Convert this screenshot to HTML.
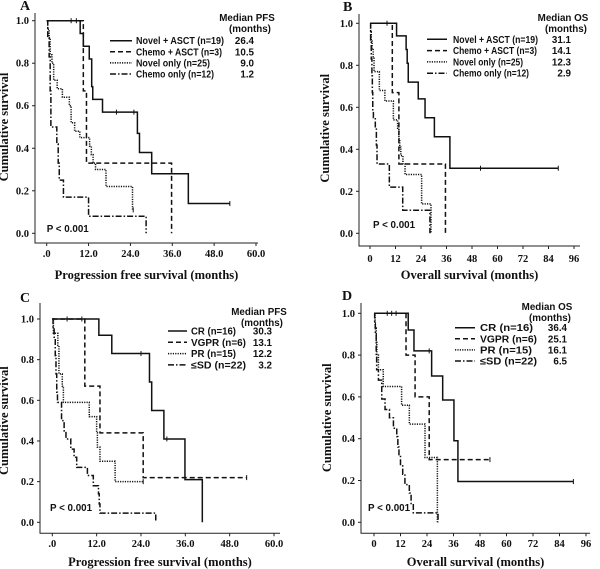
<!DOCTYPE html>
<html><head><meta charset="utf-8"><style>
html,body{margin:0;padding:0;background:#fff;}
svg{display:block;}
.tk{font-family:"Liberation Serif",serif;font-weight:bold;font-size:10.5px;fill:#111;}
.ttl{font-family:"Liberation Serif",serif;font-weight:bold;font-size:12.5px;fill:#111;}
.lg{font-family:"Liberation Sans",sans-serif;font-weight:bold;font-size:9.8px;fill:#111;}
.pl{font-family:"Liberation Serif",serif;font-weight:bold;font-size:14px;fill:#111;}
</style></head><body>
<svg id="fig" width="600" height="569" viewBox="0 0 600 569" xmlns="http://www.w3.org/2000/svg"></svg>
<script>
// ---- Panel A (PFS by treatment) ----
const A_nasct_t=[9.6,10.5,12.2,12.9,13.2,16,26,26.6,30.1,40.6];
const A_nasct_s=[0.94,0.88,0.82,0.69,0.63,0.57,0.47,0.38,0.28,0.14];
const A_nasct_c=[7,8.5,20,25,52.5];
const A_casct_t=[10.5,11.4,35.8];
const A_casct_s=[0.67,0.33,0];
const A_novel_t=[0.3,0.7,1,1.5,2,3,4.5,6.5,7,8,9.5,12.3,12.8,13.3,14,17,24.6];
const A_novel_s=[0.96,0.92,0.84,0.80,0.72,0.68,0.64,0.60,0.52,0.48,0.45,0.41,0.37,0.33,0.30,0.22,0.11];
const A_chemo_t=[0.3,0.7,1,1.2,2.9,3.3,3.6,4.8,12,28.5];
const A_chemo_s=[0.92,0.83,0.67,0.5,0.42,0.33,0.25,0.17,0.08,0];
// ---- Panel B (OS by treatment) ----
const B_nasct_t=[12.5,17,17.5,18,22.7,25.9,30.3,37.6];
const B_nasct_s=[0.94,0.875,0.81,0.72,0.64,0.55,0.46,0.31];
const B_nasct_c=[8,52,88.6];
const B_casct_t=[10.5,13.6,35.5];
const B_casct_s=[0.67,0.33,0];
const B_novel_t=[0.3,0.6,1,1.5,1.9,4.4,7,11,13,13.6,14,14.5,15.5,16.5,24.3,28.7];
const B_novel_s=[0.96,0.92,0.88,0.84,0.77,0.68,0.63,0.54,0.50,0.45,0.41,0.37,0.33,0.28,0.14,0];
const B_chemo_t=[0.3,0.6,0.9,1.1,1.3,1.6,2.5,3,3.3,9.1,15.4,28.2];
const B_chemo_s=[0.92,0.83,0.75,0.67,0.58,0.55,0.5,0.42,0.33,0.22,0.11,0];
// ---- Panel C (PFS by response) ----
const C_cr_t=[12.6,16.1,26.3,26.9,30.2,35.9,40.6];
const C_cr_s=[0.92,0.83,0.69,0.55,0.41,0.21,0];
const C_cr_c=[4,8,24,31];
const C_vgpr_t=[8.8,12.9,24.6];
const C_vgpr_s=[0.67,0.44,0.22];
const C_vgpr_c=[52.6];
const C_pr_t=[0.3,1.5,1.8,2.7,3,10,12,12.2,12.9,17];
const C_pr_s=[0.93,0.87,0.73,0.67,0.59,0.52,0.44,0.37,0.30,0.2];
const C_pr_c=[24.6];
const C_sd_t=[0.2,0.5,0.8,1,1.2,1.4,2.5,3.2,3.7,5,5.9,6.6,9.5,11.1,12.5,12.7,12.9,28];
const C_sd_s=[0.95,0.91,0.82,0.73,0.64,0.59,0.5,0.45,0.41,0.36,0.32,0.27,0.23,0.18,0.14,0.09,0.045,0];
// ---- Panel D (OS by response) ----
const D_cr_t=[15.5,18.1,26.1,31.1,36.2,38];
const D_cr_s=[0.92,0.82,0.70,0.585,0.39,0.195];
const D_cr_c=[6,8,10,25,90.3];
const D_vgpr_t=[14.5,18.6,25];
const D_vgpr_s=[0.8,0.6,0.3];
const D_vgpr_c=[52.5];
const D_pr_t=[0.5,1,1.3,2,4.2,12.5,16,23.1,28.7];
const D_pr_s=[0.93,0.87,0.80,0.73,0.65,0.56,0.47,0.31,0];
const D_sd_t=[0.3,0.6,1,1.2,2,3.5,5,7,8.8,10.3,10.8,11.3,12,13,14,16,16.8,17.8,29];
const D_sd_s=[0.95,0.9,0.8,0.73,0.68,0.59,0.54,0.5,0.45,0.41,0.36,0.32,0.27,0.23,0.18,0.14,0.09,0.045,0];
// ---- ticks / labels ----
const pfsTicks=[0,12,24,36,48,60];
const pfsTickLabels=[".0","12.0","24.0","36.0","48.0","60.0"];
const osTicks=[0,12,24,36,48,60,72,84,96];
const osTickLabels=["0","12","24","36","48","60","72","84","96"];
const yTicks=[0,0.2,0.4,0.6,0.8,1.0];
const yTickLabels=["0.0","0.2","0.4","0.6","0.8","1.0"];
const trtNames=["Novel + ASCT  (n=19)","Chemo + ASCT (n=3)","Novel only (n=25)","Chemo only (n=12)"];
const respNames=["CR (n=16)","VGPR (n=6)","PR (n=15)","\u2264SD (n=22)"];
const A_medians=["26.4","10.5","9.0","1.2"];
const B_medians=["31.1","14.1","12.3","2.9"];
const C_medians=["30.3","13.1","12.2","3.2"];
const D_medians=["36.4","25.1","16.1","6.5"];

const NS="http://www.w3.org/2000/svg";
const fig=document.getElementById('fig');
const dashes=[null,"5,3","1.2,1.2","6,2,1.5,2"];
function mk(tag,attrs,parent){const e=document.createElementNS(NS,tag);for(const k in attrs)e.setAttribute(k,attrs[k]);parent.appendChild(e);return e;}

function panel(cfg){
  const g=mk('g',{},fig);
  
  
  const xs=t=>cfg.x0+t*(cfg.x1-cfg.x0)/cfg.xmax;
  const ys=s=>cfg.y0-s*(cfg.y0-cfg.y1);
  const lab=mk('text',{x:cfg.lx,y:cfg.ly,class:'pl'},g);lab.textContent=cfg.id;
  
  
  const ax=mk('path',{d:`M${cfg.ax} ${cfg.ytop} V${cfg.ab} H${cfg.xend}`,stroke:'#222','stroke-width':1,fill:'none'},g);
  
  
  yTicks.forEach((v,i)=>{
    mk('line',{x1:cfg.ax-3,x2:cfg.ax,y1:ys(v),y2:ys(v),stroke:'#222'},g);
    const t=mk('text',{x:cfg.ax-6,y:ys(v)+3.5,class:'tk','text-anchor':'end'},g);t.textContent=yTickLabels[i];
    
    
  });
  cfg.xt.forEach((v,i)=>{
    mk('line',{x1:xs(v),x2:xs(v),y1:cfg.ab,y2:cfg.ab+3,stroke:'#222'},g);
    const t=mk('text',{x:xs(v),y:cfg.xly,class:'tk','text-anchor':'middle'},g);t.textContent=cfg.xtl[i];
    
    
  });
  const xt=mk('text',{x:(cfg.ax+cfg.xend)/2,y:cfg.xty,class:'ttl','text-anchor':'middle'},g);xt.textContent=cfg.xtitle;
  
  
  const yc=(cfg.y0+cfg.y1)/2;
  const yt=mk('text',{x:cfg.ytx,y:yc,class:'ttl','text-anchor':'middle',transform:`rotate(-90 ${cfg.ytx} ${yc})`},g);yt.textContent='Cumulative survival';
  
  
  cfg.series.forEach((sr,k)=>{
    let d=`M${xs(0)} ${ys(1)}`;
    sr.t.forEach((t,i)=>{d+=` H${xs(t)} V${ys(sr.s[i])}`;});
    const end=sr.end!=null?sr.end:sr.t[sr.t.length-1];
    d+=` H${xs(end)}`;
    const p=mk('path',{d:d,fill:'none',stroke:'#111','stroke-width':1.5},g);
    if(dashes[k])p.setAttribute('stroke-dasharray',dashes[k]);
    
    
    (sr.c||[]).forEach(c=>{
      let v=1;sr.t.forEach((t,i)=>{if(t<=c)v=sr.s[i];});
      const m=mk('line',{x1:xs(c),x2:xs(c),y1:ys(v)-2.5,y2:ys(v)+2.5,stroke:'#111','stroke-width':1},g);
      
      
    });
    const ly=cfg.legY+k*cfg.legDy;
    const ll=mk('line',{x1:cfg.legX1,x2:cfg.legX2,y1:ly,y2:ly,stroke:'#111','stroke-width':1.5},g);
    if(dashes[k])ll.setAttribute('stroke-dasharray',dashes[k]);
    
    
    const lt=mk('text',{x:cfg.legTx,y:ly+3.5,class:'lg',textLength:cfg.legW[k],lengthAdjust:'spacingAndGlyphs'},g);lt.textContent=cfg.names[k];
    
    
    const mv=mk('text',{x:cfg.medX,y:ly+3.5,class:'lg','text-anchor':'end'},g);mv.textContent=cfg.med[k];
    
    
  });
  const mh=mk('text',{x:cfg.mhx,y:cfg.mhy,class:'lg','text-anchor':'middle'},g);mh.textContent=cfg.mtitle;
  
  
  const mh2=mk('text',{x:cfg.mhx+3,y:cfg.mhy+11,class:'lg','text-anchor':'middle'},g);mh2.textContent='(months)';
  
  
  const pv=mk('text',{x:cfg.px,y:cfg.py,class:'lg'},g);pv.textContent='P < 0.001';
  
  
}

panel({id:'A',lx:20,ly:10,x0:46.7,x1:256,xmax:60,y0:233.3,y1:20.7,ax:35,ab:243,ytop:13,xend:258,
  xt:pfsTicks,xtl:pfsTickLabels,xly:257,xty:279,xtitle:'Progression free survival (months)',ytx:8,
  series:[{key:'novel-asct',t:A_nasct_t,s:A_nasct_s,c:A_nasct_c,end:52.5},{key:'chemo-asct',t:A_casct_t,s:A_casct_s},
          {key:'novel-only',t:A_novel_t,s:A_novel_s,c:[24.8],end:24.8},{key:'chemo-only',t:A_chemo_t,s:A_chemo_s}],
  names:trtNames,legW:[88,86,74,78],med:A_medians,legY:40.7,legDy:11.1,legX1:110,legX2:132,legTx:136,medX:254,mhx:247,mhy:21,mtitle:'Median  PFS',px:46.7,py:232});
panel({id:'B',lx:343,ly:11,x0:370,x1:574,xmax:96,y0:233.3,y1:23.3,ax:359,ab:246,ytop:14,xend:580,
  xt:osTicks,xtl:osTickLabels,xly:262,xty:279,xtitle:'Overall survival (months)',ytx:329,
  series:[{key:'novel-asct',t:B_nasct_t,s:B_nasct_s,c:B_nasct_c,end:88.6},{key:'chemo-asct',t:B_casct_t,s:B_casct_s},
          {key:'novel-only',t:B_novel_t,s:B_novel_s},{key:'chemo-only',t:B_chemo_t,s:B_chemo_s}],
  names:trtNames,legW:[85,84,70,76],med:B_medians,legY:39.3,legDy:11.3,legX1:427,legX2:447,legTx:453,medX:571,mhx:563,mhy:21,mtitle:'Median  OS',px:373,py:228});
panel({id:'C',lx:20,ly:302,x0:52.3,x1:274,xmax:60,y0:522.3,y1:319,ax:40,ab:533.3,ytop:303,xend:280,
  xt:pfsTicks,xtl:pfsTickLabels,xly:547,xty:566,xtitle:'Progression free survival (months)',ytx:8,
  series:[{key:'cr',t:C_cr_t,s:C_cr_s,c:C_cr_c},{key:'vgpr',t:C_vgpr_t,s:C_vgpr_s,c:C_vgpr_c,end:52.6},
          {key:'pr',t:C_pr_t,s:C_pr_s,c:C_pr_c,end:24.6},{key:'sd',t:C_sd_t,s:C_sd_s}],
  names:respNames,legW:[45,55,45,55],med:C_medians,legY:331,legDy:11.3,legX1:168,legX2:187,legTx:191,medX:272,mhx:259,mhy:315,mtitle:'Median  PFS',px:50,py:511});
panel({id:'D',lx:342,ly:300,x0:374,x1:586,xmax:96,y0:522.3,y1:313.3,ax:361,ab:533.3,ytop:303,xend:590,
  xt:osTicks,xtl:osTickLabels,xly:547,xty:566,xtitle:'Overall survival (months)',ytx:331,
  series:[{key:'cr',t:D_cr_t,s:D_cr_s,c:D_cr_c,end:90.3},{key:'vgpr',t:D_vgpr_t,s:D_vgpr_s,c:D_vgpr_c,end:52.5},
          {key:'pr',t:D_pr_t,s:D_pr_s},{key:'sd',t:D_sd_t,s:D_sd_s}],
  names:respNames,legW:[53,57,52,57],med:D_medians,legY:327.7,legDy:11.1,legX1:455,legX2:475,legTx:480,medX:567,mhx:547,mhy:310,mtitle:'Median  OS',px:368,py:511});
</script>
</body></html>
